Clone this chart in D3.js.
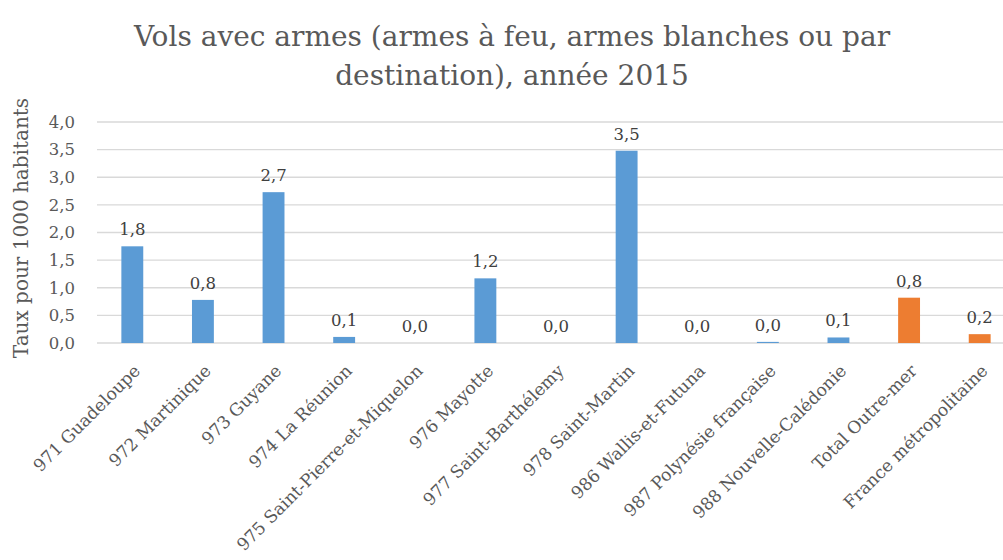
<!DOCTYPE html>
<html><head><meta charset="utf-8">
<script src="https://cdn.jsdelivr.net/npm/d3@7"></script>
<style>
body{margin:0;background:#fff;}
svg text{font-family:"DejaVu Serif",serif;}
</style></head>
<body><svg id="c" width="1003" height="560"></svg>
<script>
const categories = ["971 Guadeloupe","972 Martinique","973 Guyane","974 La Réunion","975 Saint-Pierre-et-Miquelon","976 Mayotte","977 Saint-Barthélemy","978 Saint-Martin","986 Wallis-et-Futuna","987 Polynésie française","988 Nouvelle-Calédonie","Total Outre-mer","France métropolitaine"];
const values = [1.75, 0.78, 2.73, 0.11, 0.0, 1.17, 0.0, 3.48, 0.0, 0.02, 0.1, 0.82, 0.16];
const labels = ["1,8","0,8","2,7","0,1","0,0","1,2","0,0","3,5","0,0","0,0","0,1","0,8","0,2"];
const groups = ["dom","dom","dom","dom","dom","dom","dom","dom","dom","dom","dom","total","total"];
const yTicks = [0,0.5,1,1.5,2,2.5,3,3.5,4];
const titleLines = ["Vols avec armes (armes à feu, armes blanches ou par","destination), année 2015"];
const yTitle = "Taux pour 1000 habitants";

const svg = d3.select("#c");
const pL = 97, pR = 1015, pT = 122, pB = 343;
const x = d3.scaleBand().domain(categories).range([pL, pR]).paddingInner(0.69).paddingOuter(0.345);
const y = d3.scaleLinear().domain([0,4]).range([pB, pT]);
const color = d3.scaleOrdinal().domain(["dom","total"]).range(["#5b9bd5","#ed7d31"]);

svg.append("g").selectAll("line").data(yTicks).join("line")
  .attr("x1", pL).attr("x2", pR).attr("y1", d=>y(d)).attr("y2", d=>y(d))
  .attr("stroke", "#d9d9d9").attr("stroke-width", 1.3);

const yAxis = svg.append("g").attr("transform", `translate(${pL-22},0)`)
  .call(d3.axisLeft(y).tickValues(yTicks).tickSize(0).tickPadding(0).tickFormat(d=>d3.format(".1f")(d).replace(".",",")));
yAxis.select(".domain").remove();
yAxis.selectAll("text").attr("font-size", 16.5).attr("fill", "#595959").attr("font-family","DejaVu Serif");

svg.append("g").selectAll("rect").data(categories).join("rect")
  .attr("x", d=>x(d)).attr("width", x.bandwidth())
  .attr("y", (d,i)=>y(values[i])).attr("height", (d,i)=>pB - y(values[i]))
  .attr("fill", (d,i)=>color(groups[i]));

svg.append("g").selectAll("text").data(categories).join("text")
  .attr("x", d=>x(d)+x.bandwidth()/2).attr("y", (d,i)=>y(values[i]) - 11)
  .attr("text-anchor","middle").attr("font-size", 16.5).attr("fill","#404040")
  .text((d,i)=>labels[i]);

svg.append("g").selectAll("text").data(categories).join("text")
  .attr("transform", d=>`translate(${x(d)+x.bandwidth()/2+9},${pB+29}) rotate(-45)`)
  .attr("text-anchor","end")
  .attr("font-size", 17.2).attr("fill","#595959").text(d=>d);

svg.append("text").attr("transform", `translate(28,228) rotate(-90)`)
  .attr("text-anchor","middle").attr("font-size", 20).attr("fill","#595959").text(yTitle);

svg.append("g").selectAll("text").data(titleLines).join("text")
  .attr("x", 512).attr("y", (d,i)=>46 + i*39).attr("text-anchor","middle")
  .attr("font-size", 28).attr("fill","#595959").text(d=>d);
</script></body></html>
